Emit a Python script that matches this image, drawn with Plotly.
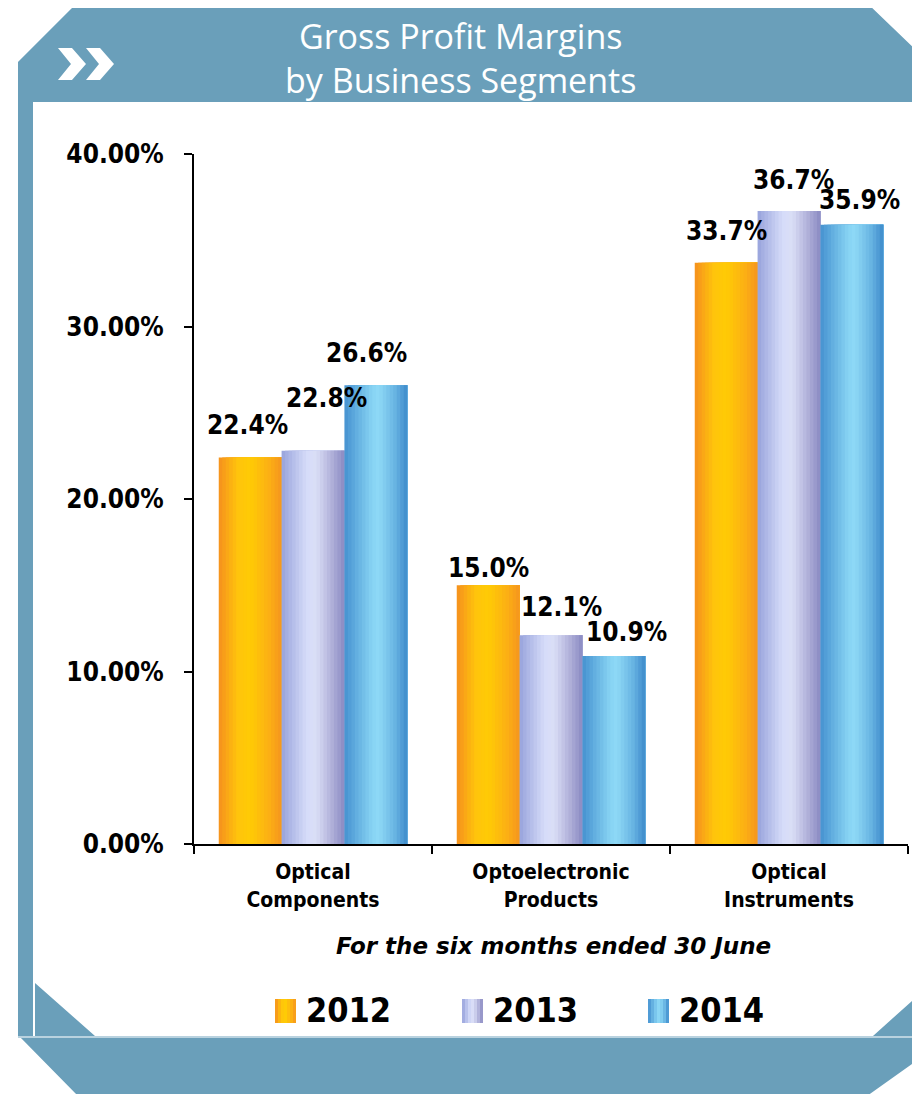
import plotly.graph_objects as go

# ---------------- data ----------------
categories = ["Optical Components", "Optoelectronic Products", "Optical Instruments"]
category_labels = ["Optical<br>Components", "Optoelectronic<br>Products", "Optical<br>Instruments"]
years = ["2012", "2013", "2014"]
margin_2012 = [22.4, 15.0, 33.7]
margin_2013 = [22.8, 12.1, 36.7]
margin_2014 = [26.6, 10.9, 35.9]
y_tick_values = [0, 10, 20, 30, 40]
y_tick_labels = ["0.00%", "10.00%", "20.00%", "30.00%", "40.00%"]
title_text = "Gross Profit Margins<br>by Business Segments"
x_title_text = "For the six months ended 30 June"

series = [margin_2012, margin_2013, margin_2014]

# ---------------- styling ----------------
OFF = 8                      # page body margin added by the html page
W, H = 920 - OFF, 1094 - OFF
L, R, T, B = 194 - OFF, 12, 154 - OFF, 250
PW, PH = W - L - R, H - T - B
FRAME = "#6a9fba"

gradients = [
    [(0.0, "#f5901e"), (0.3, "#ffc40c"), (0.5, "#ffcb05"), (0.8, "#fcb014"), (1.0, "#f5951e")],
    [(0.0, "#98a3dc"), (0.4, "#d6dcf9"), (0.55, "#dadef6"), (0.8, "#b0b0d9"), (1.0, "#8a8ac2")],
    [(0.0, "#4692d0"), (0.45, "#88d4f4"), (0.55, "#8ed9f6"), (0.8, "#69b5e3"), (1.0, "#3e8bcb")],
]


def hex2rgb(h):
    h = h.lstrip("#")
    return tuple(int(h[i:i + 2], 16) for i in (0, 2, 4))


def grad_color(stops, t):
    for (t0, c0), (t1, c1) in zip(stops[:-1], stops[1:]):
        if t0 <= t <= t1:
            f = 0 if t1 == t0 else (t - t0) / (t1 - t0)
            a, b = hex2rgb(c0), hex2rgb(c1)
            return "rgb(%d,%d,%d)" % tuple(round(a[k] + (b[k] - a[k]) * f) for k in range(3))
    return stops[-1][1]


def pp(x, y):
    """page pixel -> paper coordinates"""
    return (x - OFF - L) / PW, (H - B - (y - OFF)) / PH


def path(points):
    pts = [pp(x, y) for x, y in points]
    return "M " + " L ".join("%.5f,%.5f" % p for p in pts) + " Z"


fig = go.Figure()

# ---------------- bars (gradient via overlapping slices) ----------------
BAR_W = 0.264
START = -1.5 * BAR_W
NSL = 18
for i, (yr, vals) in enumerate(zip(years, series)):
    base = START + i * BAR_W
    for j in range(NSL):
        t = (j + 0.5) / NSL
        fig.add_trace(go.Bar(
            x=categories, y=vals,
            offset=base + j * BAR_W / NSL,
            width=BAR_W - j * BAR_W / NSL,
            marker=dict(color=grad_color(gradients[i], t), line=dict(width=0)),
            name=yr, showlegend=False, hoverinfo="skip",
        ))

# ---------------- data labels ----------------
label_dx = [[-3, 0, 0], [13, 10, 4], [-9, 13, 8]]
label_dy = [[33, 17, 32], [53, 28, 31], [32, 24, 25]]
annotations = []
for i, vals in enumerate(series):
    for c, v in enumerate(vals):
        annotations.append(dict(
            x=c + START + (i + 0.5) * BAR_W, y=v, xref="x", yref="y",
            text="%.1f%%" % v, showarrow=False,
            xshift=label_dx[i][c], yshift=label_dy[i][c],
            font=dict(family="DejaVu Sans Condensed, DejaVu Sans", size=26, color="#000", weight="bold"),
        ))

# ---------------- frame shapes ----------------
shapes = []
shapes.append(dict(type="path", xref="paper", yref="paper", layer="below", line=dict(width=0),
                   fillcolor=FRAME,
                   path=path([(78, 2), (866, 2), (922, 56), (922, 1057), (867, 1096), (78, 1096),
                              (20, 1037), (18, 1037), (18, 62)])))
shapes.append(dict(type="path", xref="paper", yref="paper", layer="below", line=dict(width=0),
                   fillcolor="white",
                   path=path([(33, 102), (913, 102), (913, 1000), (873, 1036), (95, 1036),
                              (35, 983), (35, 1036), (33, 1036)])))
shapes.append(dict(type="line", xref="paper", yref="paper", layer="below",
                   x0=pp(18, 1037)[0], y0=pp(18, 1037)[1], x1=pp(922, 1037)[0], y1=pp(922, 1037)[1],
                   line=dict(color="#b9d2df", width=2)))
# chevrons
for dxc in (0, 28):
    shapes.append(dict(type="path", xref="paper", yref="paper", layer="below", line=dict(width=0),
                       fillcolor="white",
                       path=path([(58 + dxc, 48), (72 + dxc, 48), (86 + dxc, 64), (72 + dxc, 80),
                                  (58 + dxc, 80), (71 + dxc, 64)])))

# ---------------- custom legend ----------------
legend_x = [275, 462, 648]
for i, yr in enumerate(years):
    x0 = legend_x[i]
    n = 7
    for j in range(n):
        xa = x0 + j * 21 / n
        shapes.append(dict(type="rect", xref="paper", yref="paper", layer="above", line=dict(width=0),
                           fillcolor=grad_color(gradients[i], (j + 0.5) / n),
                           x0=pp(xa, 0)[0], x1=pp(x0 + 21, 0)[0],
                           y0=pp(0, 1023)[1], y1=pp(0, 999)[1]))
    annotations.append(dict(xref="paper", yref="paper", x=pp(x0 + 29, 0)[0], y=pp(0, 1010)[1],
                            xanchor="left", yanchor="middle", text=yr, showarrow=False,
                            font=dict(family="Liberation Sans Narrow, DejaVu Sans Condensed", size=34,
                                      color="#000", weight="bold")))

# ---------------- titles ----------------
annotations.append(dict(xref="paper", yref="paper", x=pp(460, 0)[0], y=pp(0, 58)[1],
                        xanchor="center", yanchor="middle", text=title_text, showarrow=False,
                        font=dict(family="Open Sans", size=34, color="white")))
annotations.append(dict(xref="paper", yref="paper", x=pp(553, 0)[0], y=pp(0, 946)[1],
                        xanchor="center", yanchor="middle", text=x_title_text, showarrow=False,
                        font=dict(family="DejaVu Sans", size=23, color="#000", style="italic",
                                  weight="bold")))

fig.update_layout(
    width=W, height=H, margin=dict(l=L, r=R, t=T, b=B),
    paper_bgcolor="white", plot_bgcolor="rgba(0,0,0,0)",
    barmode="overlay", showlegend=False,
    shapes=shapes, annotations=annotations,
    xaxis=dict(type="category", categoryorder="array", categoryarray=categories,
               tickmode="array", tickvals=categories, ticktext=category_labels,
               tickson="boundaries", ticks="outside", ticklen=8, tickwidth=2, tickcolor="#000",
               showline=True, linecolor="#000", linewidth=2, showgrid=False,
               ticklabelstandoff=8,
               tickfont=dict(family="DejaVu Sans Condensed, DejaVu Sans", size=21, color="#000",
                             weight="bold"),
               range=[-0.5, 2.5]),
    yaxis=dict(range=[0, 40], tickmode="array", tickvals=y_tick_values, ticktext=y_tick_labels,
               ticks="outside", ticklen=8, tickwidth=2, tickcolor="#000",
               showline=True, linecolor="#000", linewidth=2, showgrid=False, zeroline=False,
               ticklabelstandoff=15,
               tickfont=dict(family="DejaVu Sans Condensed, DejaVu Sans", size=26, color="#000",
                             weight="bold")),
)

fig.write_html("out.html")
